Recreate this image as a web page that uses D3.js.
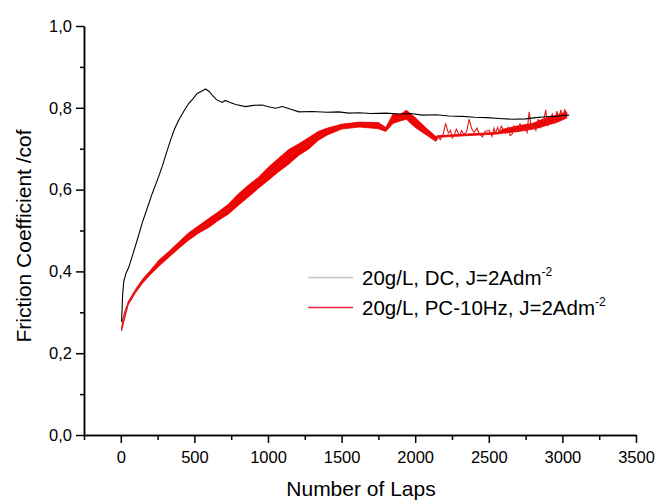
<!DOCTYPE html>
<html>
<head>
<meta charset="utf-8">
<script src="https://cdn.jsdelivr.net/npm/d3@7"></script>
<style>
  body { margin: 0; background: #fff; }
  text { font-family: "Liberation Sans", Arial, sans-serif; fill: #000; }
</style>
</head>
<body>
<svg id="chart"></svg>
<script>
// friction coefficient vs number of laps

// DC series (laps, cof)
const dcLaps = [5, 8, 12, 20, 35, 54, 80, 110, 145, 180, 213, 250, 281, 310, 338, 365, 394, 430, 462, 490, 519, 545, 576, 600, 621, 650, 689, 710, 734, 780, 848, 900, 961, 1010, 1052, 1097, 1150, 1210, 1300, 1400, 1480, 1550, 1620, 1700, 1800, 1890, 1970, 2050, 2140, 2230, 2320, 2400, 2490, 2570, 2658, 2750, 2820, 2887, 2950, 3000, 3046];
const dcCof = [0.277, 0.30, 0.34, 0.375, 0.395, 0.41, 0.44, 0.475, 0.518, 0.555, 0.59, 0.625, 0.656, 0.69, 0.721, 0.748, 0.770, 0.793, 0.811, 0.822, 0.835, 0.840, 0.846, 0.840, 0.831, 0.820, 0.813, 0.818, 0.814, 0.808, 0.803, 0.806, 0.807, 0.802, 0.799, 0.803, 0.797, 0.790, 0.791, 0.789, 0.790, 0.787, 0.788, 0.786, 0.787, 0.785, 0.786, 0.782, 0.783, 0.780, 0.779, 0.777, 0.776, 0.774, 0.772, 0.773, 0.776, 0.778, 0.779, 0.781, 0.782];

// PC-10Hz series, centre line (laps, cof)
const pcLaps = [5, 15, 30, 50, 75, 100, 150, 190, 250, 326, 400, 462, 530, 598, 660, 734, 800, 870, 940, 1006, 1070, 1142, 1210, 1278, 1346, 1420, 1482, 1550, 1618, 1700, 1754, 1790, 1808, 1830, 1867, 1900, 1935, 1960, 2003, 2040, 2071, 2110, 2139, 2155, 2170, 2190, 2207, 2225, 2240, 2252, 2265, 2280, 2300, 2315, 2330, 2350, 2366, 2385, 2400, 2420, 2434, 2457, 2475, 2502, 2522, 2535, 2545, 2560, 2570, 2585, 2600, 2615, 2630, 2645, 2658, 2670, 2680, 2700, 2712, 2725, 2745, 2760, 2774, 2790, 2800, 2820, 2835, 2850, 2870, 2887, 2900, 2910, 2932, 2950, 2962, 2975, 2990, 3000, 3015, 3030];
const pcCof = [0.257, 0.285, 0.305, 0.322, 0.338, 0.352, 0.377, 0.395, 0.418, 0.443, 0.465, 0.485, 0.502, 0.518, 0.535, 0.553, 0.575, 0.597, 0.618, 0.638, 0.66, 0.68, 0.70, 0.715, 0.73, 0.745, 0.752, 0.757, 0.76, 0.759, 0.757, 0.75, 0.746, 0.765, 0.776, 0.772, 0.788, 0.78, 0.765, 0.752, 0.742, 0.728, 0.72, 0.732, 0.722, 0.735, 0.762, 0.738, 0.745, 0.726, 0.734, 0.748, 0.732, 0.744, 0.735, 0.742, 0.772, 0.748, 0.74, 0.75, 0.737, 0.729, 0.742, 0.745, 0.73, 0.75, 0.738, 0.752, 0.74, 0.755, 0.745, 0.738, 0.752, 0.732, 0.735, 0.755, 0.748, 0.742, 0.762, 0.745, 0.752, 0.74, 0.79, 0.748, 0.76, 0.745, 0.772, 0.752, 0.765, 0.795, 0.755, 0.77, 0.785, 0.762, 0.792, 0.775, 0.795, 0.772, 0.795, 0.785];

// PC-10Hz noise envelope (laps, low, high)
const pcBandLaps = [5, 50, 100, 150, 200, 260, 330, 400, 460, 530, 600, 660, 730, 800, 870, 935, 1000, 1070, 1140, 1210, 1280, 1340, 1400, 1500, 1620, 1750, 1800, 1850, 1900, 1940, 2000, 2070, 2140, 2160, 2560, 2600, 2700, 2800, 2850, 2900, 2960, 3030];
const pcBandLo = [0.255, 0.318, 0.348, 0.372, 0.392, 0.413, 0.436, 0.458, 0.476, 0.494, 0.508, 0.524, 0.540, 0.562, 0.583, 0.603, 0.622, 0.643, 0.662, 0.684, 0.700, 0.720, 0.733, 0.748, 0.753, 0.749, 0.742, 0.762, 0.768, 0.772, 0.752, 0.735, 0.718, 0.728, 0.736, 0.738, 0.742, 0.748, 0.752, 0.758, 0.764, 0.775];
const pcBandHi = [0.259, 0.326, 0.356, 0.382, 0.402, 0.428, 0.450, 0.474, 0.494, 0.512, 0.530, 0.545, 0.564, 0.590, 0.612, 0.630, 0.654, 0.676, 0.698, 0.712, 0.728, 0.742, 0.750, 0.760, 0.765, 0.764, 0.752, 0.785, 0.784, 0.794, 0.776, 0.752, 0.730, 0.732, 0.740, 0.748, 0.756, 0.762, 0.770, 0.776, 0.782, 0.790];

const xMajor = [0, 500, 1000, 1500, 2000, 2500, 3000, 3500];
const xMinor = [-250, 250, 750, 1250, 1750, 2250, 2750, 3250];
const yMajor = [0, 0.2, 0.4, 0.6, 0.8, 1.0];
const yMinor = [0.1, 0.3, 0.5, 0.7, 0.9];

const legendLabels = ["20g/L, DC, J=2Adm", "20g/L, PC-10Hz, J=2Adm"];

const W = 659, H = 502;
const svg = d3.select("#chart").attr("width", W).attr("height", H);

const x = d3.scaleLinear().domain([-250, 3500]).range([84, 636]);
const y = d3.scaleLinear().domain([0, 1]).range([435, 26]);

const dcData = dcLaps.map((d, i) => ({ x: d, y: dcCof[i] }));
const pcData = pcLaps.map((d, i) => ({ x: d, y: pcCof[i] }));
const bandData = pcBandLaps.map((d, i) => ({ x: d, lo: pcBandLo[i], hi: pcBandHi[i] }));

const line = d3.line().x(d => x(d.x)).y(d => y(d.y));
const area = d3.area().x(d => x(d.x)).y0(d => y(d.lo)).y1(d => y(d.hi));

// red band + line
svg.append("path")
    .attr("d", area(bandData))
    .attr("fill", "#f00000")
    .attr("stroke", "#f00000")
    .attr("stroke-width", 0.8);
svg.append("path")
    .attr("d", line(pcData))
    .attr("fill", "none")
    .attr("stroke", "#e01818")
    .attr("stroke-width", 1.1);

// black line
svg.append("path")
    .attr("d", line(dcData))
    .attr("fill", "none")
    .attr("stroke", "#000")
    .attr("stroke-width", 1.1);

// axes
const fmt = d => d.toFixed(1).replace(".", ",");

svg.append("g")
    .attr("transform", "translate(0,435)")
    .call(d3.axisBottom(x).tickValues(xMinor).tickSize(5).tickSizeOuter(0).tickFormat(""));
svg.append("g")
    .attr("class", "xaxis")
    .attr("transform", "translate(0,435)")
    .call(d3.axisBottom(x).tickValues(xMajor).tickSize(8).tickSizeOuter(0).tickPadding(8).tickFormat(d3.format("d")));

svg.append("g")
    .attr("transform", "translate(84,0)")
    .call(d3.axisLeft(y).tickValues(yMinor).tickSize(4).tickSizeOuter(0).tickFormat(""));
svg.append("g")
    .attr("class", "yaxis")
    .attr("transform", "translate(84,0)")
    .call(d3.axisLeft(y).tickValues(yMajor).tickSize(8).tickSizeOuter(0).tickPadding(4).tickFormat(fmt));

svg.selectAll(".domain, .tick line")
    .attr("stroke", "#000")
    .attr("stroke-width", 1.5);
svg.selectAll(".tick text")
    .attr("font-family", "Liberation Sans, Arial, sans-serif")
    .attr("font-size", "16.5px")
    .attr("fill", "#000");

// axis titles
svg.append("text")
    .attr("x", 361)
    .attr("y", 496)
    .attr("text-anchor", "middle")
    .attr("font-size", "21px")
    .text("Number of Laps");
svg.append("text")
    .attr("transform", "translate(31,236) rotate(-90)")
    .attr("text-anchor", "middle")
    .attr("font-size", "21px")
    .text("Friction Coefficient /cof");

// legend
const legendColors = ["#c4c4c4", "#e8283a"];
legendLabels.forEach((lab, i) => {
    const ly = 277.5 + i * 30;
    svg.append("rect")
        .attr("x", 308).attr("y", ly - 0.75)
        .attr("width", 45).attr("height", 1.5)
        .attr("fill", legendColors[i]);
    const t = svg.append("text")
        .attr("x", 362)
        .attr("y", ly + 7.5)
        .attr("font-size", "20.5px")
        .text(lab);
    t.append("tspan")
        .attr("dy", -9)
        .attr("font-size", "12px")
        .text("-2");
});
</script>
</body>
</html>
